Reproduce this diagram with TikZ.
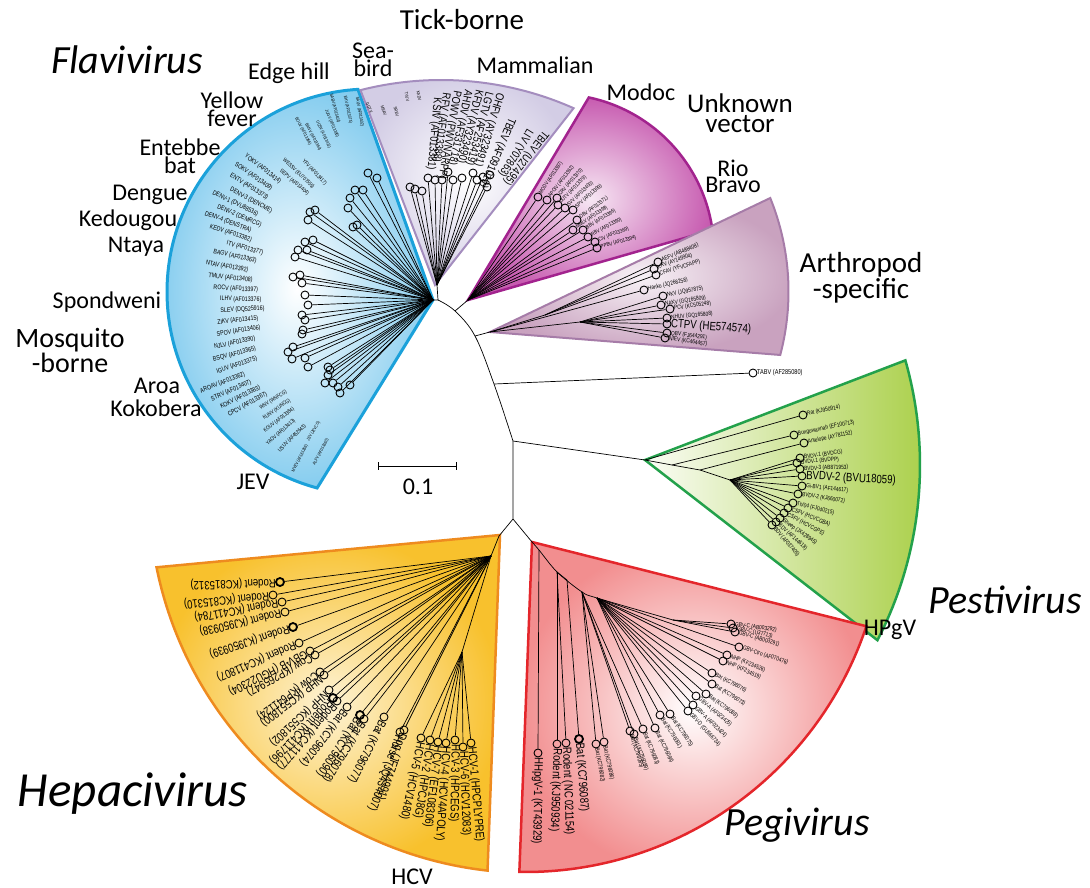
\documentclass[tikz,border=0pt]{standalone}
\usepackage{fontspec}
\setmainfont{Carlito}
\newfontfamily\leaffont[FakeStretch=0.8]{Liberation Sans}
\usetikzlibrary{calc}
\definecolor{flaviline}{HTML}{1BA1DA}
\definecolor{flavifill}{HTML}{86CDEF}
\definecolor{tickline}{HTML}{A48DBE}
\definecolor{tickfill}{HTML}{D3CDE5}
\definecolor{unkline}{HTML}{A2238E}
\definecolor{unkfill}{HTML}{C75BB0}
\definecolor{arthline}{HTML}{A67CA8}
\definecolor{arthfill}{HTML}{C9A2BF}
\definecolor{pestline}{HTML}{23A14B}
\definecolor{pestfill}{HTML}{A9CF47}
\definecolor{pegiline}{HTML}{E4262B}
\definecolor{pegifill}{HTML}{F28E8F}
\definecolor{hepaline}{HTML}{EE8B1F}
\definecolor{hepafill}{HTML}{F8C12D}

\begin{document}
\begin{tikzpicture}[x=1pt, y=-1pt,
    every node/.style={inner sep=0pt},
    wedge/.style={line width=2pt, line join=miter},
    branch/.style={line width=0.7pt},
    leaf/.style={circle, draw, line width=0.9pt, minimum size=8pt, inner sep=0pt},
    lbl/.style={font=\leaffont\fontsize{6}{6}\selectfont, inner xsep=4pt, inner ysep=0pt},
    biglbl/.style={font=\leaffont\fontsize{12}{12}\selectfont, inner xsep=4pt, inner ysep=0pt},
    flbl/.style={font=\leaffont\fontsize{6.6}{7}\selectfont},
    fsmall/.style={font=\leaffont\fontsize{5.5}{6}\selectfont},
    ftiny/.style={font=\leaffont\fontsize{4.5}{5}\selectfont},
    tlbl/.style={font=\leaffont\fontsize{11.5}{12}\selectfont},
    genus/.style={font=\fontsize{40}{40}\selectfont\itshape},
    group/.style={font=\fontsize{24}{16}\selectfont, align=center},
    vector/.style={font=\fontsize{28}{20}\selectfont, align=center}
]
\useasboundingbox (0,0) rectangle (1090,888);

% clade wedges
\shadedraw[wedge, line width=3pt, draw=flaviline, inner color=white, outer color=flavifill]
  (433,300) -- ($(370,292)+(-93.4:203)$) arc[start angle=-93.4, end angle=-254.9, radius=203] -- cycle;
\shadedraw[wedge, draw=tickline, inner color=white, outer color=tickfill]
  (435,285) -- ($(441,406)+(-104.3:326)$) arc[start angle=-104.3, end angle=-66, radius=326] -- cycle;
\shadedraw[wedge, line width=2.5pt, draw=unkline, inner color=unkfill!15, outer color=unkfill]
  (468,300) -- ($(556,252)+(-78:158)$) arc[start angle=-78, end angle=-8, radius=158] -- cycle;
\shadedraw[wedge, draw=arthline, inner color=arthfill!15, outer color=arthfill]
  (490,332) -- ($(540,291.5)+(-22.1:248.5)$) arc[start angle=-22.1, end angle=14.8, radius=248.5] -- cycle;
\shadedraw[wedge, line width=2.5pt, draw=pestline, left color=pestfill!5, right color=pestfill]
  (645,460) -- ($(538,465)+(-15.9:382)$) arc[start angle=-15.9, end angle=27.3, radius=382] -- cycle;
\shadedraw[wedge, line width=2.5pt, draw=pegiline, inner color=white, outer color=pegifill]
  (532,542) -- ($(525,512)+(18.5:360)$) arc[start angle=18.5, end angle=90.9, radius=360] -- cycle;
\shadedraw[wedge, line width=2.5pt, draw=hepaline, inner color=hepafill!20, outer color=hepafill]
  (500,535) -- ($(530,492)+(168.6:381)$) arc[start angle=168.6, end angle=96.4, radius=381] -- cycle;

% backbone
\coordinate (F) at (433,300);
\coordinate (T) at (437,285);
\coordinate (J1) at (438,300);
\coordinate (J2) at (455,311);
\coordinate (J3) at (475,336);
\coordinate (J4) at (494,384);
\coordinate (J5) at (513,441);
\coordinate (J6) at (513,519);
\coordinate (M) at (468,300);
\coordinate (A) at (490,332);
\coordinate (P) at (645,460);
\coordinate (H) at (499,536);
\coordinate (G0) at (532,542);
\draw[branch] (F) -- (J1) -- (T);
\draw[branch] plot[smooth, tension=0.6] coordinates {(J1) (J2) (J3) (J4) (J5)};
\draw[branch] (J2) -- (M);
\draw[branch] (J3) -- (A);
\draw[branch] (J5) -- (P);
\draw[branch] (J5) -- (J6) -- (H);
\draw[branch] (J6) -- (G0);
\node[leaf] (tabv) at (753,373) {};
\draw[branch] (J4) -- (tabv);
\node[lbl, font=\leaffont\fontsize{7}{7}\selectfont, anchor=west] (tabvl) at (tabv.center) {TABV (AF285080)};

% Flavivirus
\foreach [count=\i] \x/\y in {368/173, 377/178, 363/190, 355/190, 350/198, 348/208, 353/227,
    357/225, 310/212, 315/210, 308/220, 313/240, 305/242, 298/250, 295/257, 307/250, 293/277,
    300/275, 302/283, 305/295, 308/305, 302/315, 305/320, 303/330, 302/334, 293/347, 288/352,
    292/359, 305/358, 308/367, 328/367, 330/370, 328/375, 333/383, 338/387, 350/385, 340/393, 325/383} {
  \node[leaf] (fv\i) at (\x,\y) {};
  \draw[branch] (F) -- (fv\i);
}
\foreach [count=\i] \a/\R/\t in {142.4/237/YOKV (AF013414), 145.5/240/SOKV (AF013409),
    148.4/238/ENTV (AF013373), 151.3/231/DENV-3 (DENCME), 154/245/DENV-1 (DVU88536),
    156.6/235/DENV-2 (DEMRCG), 159.2/244/DENV-4 (DENSTRA), 161.8/235/KEDV (AF013382),
    164.6/214/ITV (AF013377), 167.6/225/BAGV (AF013363), 170.8/230/NTAV (AF013392),
    173.8/226/TMUV (AF013408), 176.8/220/ROCV (AF013397), 179.8/213/ILHV (AF013376),
    182.9/213/SLEV (DQ525916), 186/217/ZIKV (AF013415), 189.1/219/SPOV (AF013406),
    192.2/224/NJLV (AF013390), 195.3/228/BSQV (AF013365), 198.4/228/IGUV (AF013375),
    201.5/250/AROAV (AF013362), 204.2/243/STRV (AF013407), 206.8/238/KOKV (AF013383),
    209.4/235/CPCV (AF013367)}
  \node[flbl, rotate=\a-180, anchor=west] (ft\i) at ($(F)+(-\a:\R)$) {\t};
\foreach [count=\i] \a/\R/\t in {212/204/WNV (WNFCG), 215/207/KUNV (KUNCG),
    218/214/KOUV (AF013384), 221/220/YAOV (AF013413), 224.5/216/USUV (AF452643),
    132.9/191/YFV (AF013417), 136.8/205/WESSV (EU707555), 139.7/200/SEPV (AF013404)}
  \node[fsmall, rotate=\a-180, anchor=west] (fs\i) at ($(F)+(-\a:\R)$) {\t};
\foreach [count=\i] \x/\y/\r/\t in {308/441/60/JEV (JEVCG), 293/472/63/MVEV (AF161266),
    314/465/62/ALFV (AF013360), 296/118/-62/BOUV (AF013366), 306/124/-62/BANV (AF013364),
    317/121/-65/UGSV (AF013411), 326/110/-67/JUGV (AF013380), 331/94/-75/SABV (AF013401),
    345/96/-78/EHV (AF013374), 357/97/-80/SAUV (AF013402)}
  \node[ftiny, rotate=\r, anchor=west] (fy\i) at (\x,\y) {\t};

% tick-borne
\foreach [count=\i] \x/\y in {410/187, 415/189, 422/191, 428/178, 435/180, 442/180, 448/172,
    453/180, 462/178, 473/173, 477/180, 483/177, 490/175, 487/187} {
  \node[leaf] (tb\i) at (\x,\y) {};
  \draw[branch] (T) -- (tb\i);
}
\foreach [count=\i] \x/\y/\r/\t in {437/98/-95/KSIV (AF013381), 446/93/-98/RFV (AF013388),
    457/91/-100/POWV (PWVNARPP), 468/90/-102/AHDV (AF331718), 479/90/-104/KFDV (AY323490),
    489/92/-105/LGTV (AF253419), 500/93/-107/OHFV (AY323491), 512/118/-113/TBEV (AF091019),
    530/130/-122/LIV (Y07863), 546/132/-128/TBEV (U27495)}
  \node[tlbl, rotate=\r, anchor=west] (tt\i) at (\x,\y) {\t};
\foreach [count=\i] \x/\y/\r/\t in {367/103/-65/GGYV, 382/106/-70/MEAV, 395/107/-75/SREV,
    406/92/-80/TYUV, 418/91/-80/KADV}
  \node[ftiny, rotate=\r, anchor=west] (ty\i) at (\x,\y) {\t};

% unknown vector
\foreach [count=\i] \x/\y/\r/\t in {538/197/56/MODV (AF013387), 547/200/52/APOIV (AF013362),
    557/198/49/CRV (AF013370), 558/205/46/JUTV (AF013379), 565/208/43/SVV (AF013400),
    573/210/41/SPV (AF013399), 577/220/36/DBV (AF013371), 573/230/34/MMLV (AF013398),
    583/230/31/BBV (AF013396), 588/237/28/RBV (AF013390), 595/242/22/CIV (AF013369),
    597/248/15/PPBV (AF013394)} {
  \node[leaf] (uv\i) at (\x,\y) {};
  \draw[branch] (M) -- (uv\i);
  \node[lbl, font=\leaffont\fontsize{5.5}{6}\selectfont, rotate=\r, anchor=west] (ul\i) at (uv\i.center) {\t};
}

% arthropod-specific
\coordinate (A1) at (545,315);
\coordinate (A2) at (580,322);
\draw[branch] (A) -- (A1);
\draw[branch] (A) -- (A2);
\foreach [count=\i] \x/\y/\r/\s/\t in {658/262/23/A1/AEFV (AB488408), 654/269/20/A1/KRV (AY149904),
    656/275/17/A1/CFAV (YFVCFAPP), 644/290/13/A/Hanko (JQ268258), 663/296/11/A2/NKV (JQ957875),
    661/305/9/A2/NAKV (GQ165809), 670/309/8/A2/PCV (KC505248), 667/318/5/A2/NHUV (GQ165808),
    667/333/-7/A2/QBV (FJ644291), 665/338/-9/A2/NIEV (KC464457)} {
  \node[leaf] (as\i) at (\x,\y) {};
  \draw[branch] (\s) -- (as\i);
  \node[lbl, rotate=\r, anchor=west] (al\i) at (as\i.center) {\t};
}
\node[leaf] (ctpv) at (667,324) {};
\draw[branch] (A2) -- (ctpv);
\node[biglbl, rotate=-4, anchor=west] (ctpvl) at (ctpv.center) {CTPV (HE574574)};

% Pestivirus
\coordinate (P1) at (672,465);
\coordinate (P2) at (700,470);
\coordinate (P3) at (730,480);
\draw[branch] (P) -- (P1) -- (P2) -- (P3);
\foreach [count=\i] \x/\y/\r/\s/\t in {803/415/12/P/Rat (KJ950914), 794/435/12/P1/Bungowannah (EF100713),
    804/443/12/P2/Antelope (AY781152), 800/458/8/P3/BVDV-1 (BVDCG), 797/463/5/P3/BVDV-1 (BVDPP),
    800/469/2/P3/BVDV-3 (AB871953), 802/486/-6/P3/Gi-BV1 (AF144617), 798/494/-9/P3/BVDV-2 (KJ660072),
    793/503/-14/P3/{Th/04 (FJ040215)}, 788/508/-22/P3/CSFV (HCVCGBA), 784/513/-28/P3/CSFV (HCVCGPE),
    780/518/-35/P3/Sheep (JX428945), 776/522/-42/P3/BDV (AF144618), 772/525/-50/P3/BDV (AF037405)} {
  \node[leaf] (ps\i) at (\x,\y) {};
  \draw[branch] (\s) -- (ps\i);
  \node[lbl, rotate=\r, anchor=west] (pl\i) at (ps\i.center) {\t};
}
\node[leaf] (bvdv) at (802,476) {};
\draw[branch] (P3) -- (bvdv);
\node[biglbl, rotate=-3, anchor=west] (bvdvl) at (bvdv.center) {BVDV-2 (BVU18059)};

% Pegivirus
\coordinate (G1) at (539,550);
\coordinate (G2) at (557,572);
\coordinate (G3) at (567,580);
\coordinate (G4) at (582,592);
\coordinate (G5) at (597,598);
\coordinate (G6) at (673,620);
\draw[branch] plot[smooth, tension=0.5] coordinates {(G0) (G1) (G2) (G4) (G5) (G6)};
\draw[branch] (G2) -- (G3);
\foreach [count=\i] \x/\y/\r/\w/\s/\t in {538/753/-91/0.9/G1/HHpgV-1 (KT43929),
    557/744/-92/0.9/G2/Rodent (KJ950934), 566/743/-88/0.9/G2/Rodent (NC 021154),
    579/739/-86/1.8/G3/Bat (KC796087)} {
  \node[leaf, line width=\w pt] (gb\i) at (\x,\y) {};
  \draw[branch] (\s) -- (gb\i);
  \node[biglbl, rotate=\r, anchor=west] (gbl\i) at (gb\i.center) {\t};
}
\foreach [count=\i] \x/\y/\r/\s/\t in {596/744/-80/G4/Bat (KC796082), 604/742/-78/G4/Bat (KC796086),
    630/731/-72/G4/Bat (KC796085), 634/734/-71/G4/Bat (KC796089), 643/729/-68/G4/Bat (KC796083),
    655/728/-64/G5/Bat (KC796084), 660/715/-58/G5/Bat (KC796081), 670/714/-56/G5/Bat (KC796075),
    688/711/-48/G5/GBV-D (GU566734), 693/705/-44/G5/GBV-A (AF023424), 696/696/-40/G5/GBV-A (AF023425),
    706/694/-36/G5/Bat (KC796088), 712/684/-32/G5/Bat (KC796073), 712/673/-28/G5/Bat (KC796076),
    723/661/-24/G5/NHP (KF234519), 727/655/-22/G5/NHP (KF234526), 739/647/-18/G5/GBV-Ctro (AF070476),
    731/624/-8/G6/GBV-C (AB003292), 733/628/-12/G6/GBV-C (U37713), 735/632/-16/G6/GBV-C (AB003291)} {
  \node[leaf] (gs\i) at (\x,\y) {};
  \draw[branch] (\s) -- (gs\i);
  \node[lbl, rotate=\r, anchor=west] (gsl\i) at (gs\i.center) {\t};
}

% Hepacivirus
\coordinate (H1) at (491,556);
\coordinate (HC) at (462,652);
\draw[branch] (H) -- (H1) -- (HC);
\foreach [count=\i] \x/\y/\r/\w/\t in {280/582/182/1.8/Rodent (KC815312), 273/595/186/0.9/Rodent (KC815310),
    282/602/190/0.9/Rodent (KC411784), 285/612/193/0.9/Rodent (KJ950938), 293/627/198/1.8/Rodent (KJ950939),
    299/643/203/0.9/Rodent (KC411807), 310/651/207/0.9/GBV-B (HGU22304), 315/655/209/0.9/Cow (KP265947),
    320/672/216/0.9/Cow (KP641124), 324/675/218/0.9/NHP (KC551800), 329/690/223/0.9/NHP (KC551802),
    333/698/226/1.8/Rodent (KC411796), 337/701/229/0.9/Rodent (KC411777), 347/707/232/0.9/Bat (KC796074),
    360/715/236/1.8/Bat (KC796090), 364/719/238/0.9/Bat (KC796078), 384/717/243/0.9/Bat (KC796077),
    400/732/250/0.9/Horse (JQ434007), 404/730/251/0.9/Dog (JF744991)} {
  \node[leaf, line width=\w pt] (hc\i) at (\x,\y) {};
  \draw[branch] (H1) -- (hc\i);
  \node[biglbl, rotate=\r, anchor=west] (hl\i) at (hc\i.center) {\t};
}
\foreach [count=\i] \x/\y/\r/\t in {421/738/258/HCV-5 (HCV1480), 430/740/261/HCV-2 (HPCJ8G),
    438/742/263/HCV-7 (EF108306), 446/743/266/HCV-4 (HCV4APOLY), 455/740/269/HCV-3 (HPCEGS),
    463/747/272/HCV-6 (HCV12083), 471/743/275/HCV-1 (HPCPLYPRE)} {
  \node[leaf] (hv\i) at (\x,\y) {};
  \draw[branch] (HC) -- (hv\i);
  \node[biglbl, rotate=\r, anchor=west] (hvl\i) at (hv\i.center) {\t};
}

% scale bar
\coordinate (s0) at (378,466);
\coordinate (s1) at (456,466);
\draw[branch, line width=1pt] (s0) -- (s1);
\draw[line width=1pt] ($(s0)+(0,-4)$) -- ($(s0)+(0,4)$);
\draw[line width=1pt] ($(s1)+(0,-4)$) -- ($(s1)+(0,4)$);
\node[group] (scale) at (418,487) {0.1};

% group names
\node[genus] (flavi) at (127,60) {Flavivirus};
\node[genus] (pesti) at (1005,600) {Pestivirus};
\node[genus] (pegi) at (797,825) {Pegivirus};
\node[genus, font=\fontsize{49}{49}\selectfont\itshape] (hepa) at (133,794) {Hepacivirus};
\node[group, font=\fontsize{29}{20}\selectfont] (tick) at (462,20) {Tick-borne};
\node[group] (seabird) at (373,60) {Sea-\\bird};
\node[group] (mammal) at (535,65) {Mammalian};
\node[group] (edge) at (289,73) {Edge hill};
\node[group] (yellow) at (232,109) {Yellow\\fever};
\node[group] (entebbe) at (180,156) {Entebbe\\bat};
\node[group] (dengue) at (150,195) {Dengue};
\node[group] (kedougou) at (128,220) {Kedougou};
\node[group] (ntaya) at (136,247) {Ntaya};
\node[group] (spond) at (107,302) {Spondweni};
\node[vector] (mosq) at (70,350) {Mosquito\\-borne};
\node[group] (aroa) at (157,386) {Aroa};
\node[group] (koko) at (156,408) {Kokobera};
\node[group] (jev) at (253,482) {JEV};
\node[group] (modoc) at (641,92) {Modoc};
\node[vector, font=\fontsize{27}{20}\selectfont] (unknown) at (740,113) {Unknown\\vector};
\node[group] (rio) at (733,176) {Rio\\Bravo};
\node[vector, font=\fontsize{29}{20}\selectfont] (arthro) at (861,278) {Arthropod\\-specific};
\node[group] (hpgv) at (890,630) {HPgV};
\node[group] (hcv) at (412,877) {HCV};
\end{tikzpicture}
\end{document}
